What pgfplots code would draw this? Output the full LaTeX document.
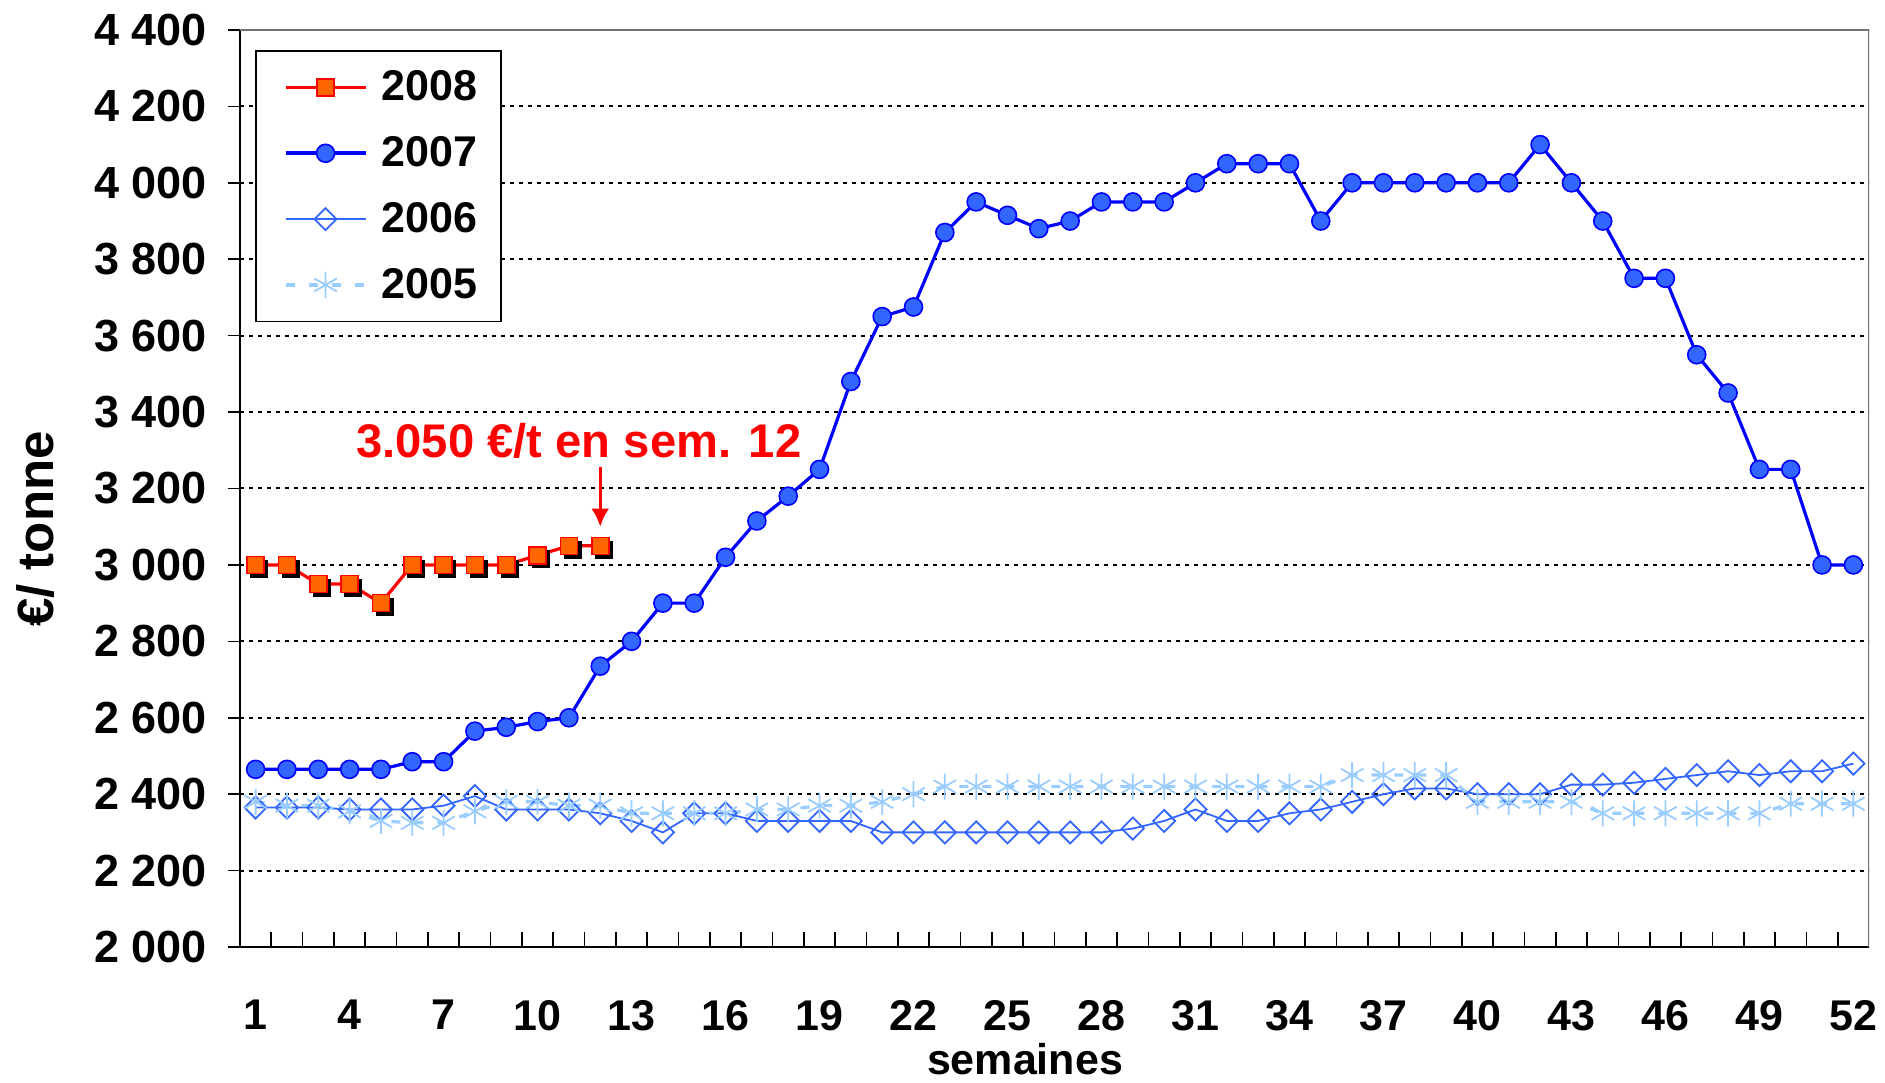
\documentclass[border=0pt]{standalone}
\usepackage{pgfplots}
\pgfplotsset{compat=1.18}
\usetikzlibrary{arrows.meta}
\usepackage{fontspec}
\setmainfont{Liberation Sans}
\definecolor{r08}{RGB}{255,0,0}
\definecolor{o08}{RGB}{255,102,0}
\definecolor{b07}{RGB}{0,0,255}
\definecolor{f07}{RGB}{51,102,255}
\definecolor{b06}{RGB}{51,102,255}
\definecolor{b05}{RGB}{153,204,255}
\newcommand{\lbl}{\fontsize{21.5}{25}\selectfont\bfseries}
\begin{document}
\begin{tikzpicture}
\begin{axis}[
  scale only axis, width=814.5pt, height=458.5pt,
  xmin=0.5, xmax=52.5, ymin=2000, ymax=4400,
  axis x line*=bottom, axis y line*=left,
  axis line style={-, line width=1pt, black},
  xtick={1,4,...,52},
  xticklabels={1,4,7,10,13,16,19,22,25,28,31,34,37,40,43,46,49,52},
  minor xtick={1.5,2.5,...,51.5},
  ytick={2000,2200,...,4400},
  yticklabels={2 000,2 200,2 400,2 600,2 800,3 000,3 200,3 400,3 600,3 800,4 000,4 200,4 400},
  major tick length=6pt, minor tick length=7.5pt,
  xtick align=inside, ytick align=outside,
  major x tick style={draw=none},
  tick style={black, line width=0.8pt},
  ymajorgrids,
  major grid style={black, line width=1pt, dash pattern=on 2pt off 2.5pt},
  xticklabel style={font=\lbl, yshift=-23pt},
  yticklabel style={font=\fontsize{22.5}{26}\selectfont\bfseries, xshift=-7pt},
  xlabel={semaines},
  xlabel style={font=\lbl, at={(axis description cs:0.4819,0)}, anchor=center, yshift=-56pt},
  ylabel={€/ tonne},
  ylabel style={font=\fontsize{25.5}{29}\selectfont\bfseries, at={(axis description cs:-0.1252,0.4558)}, anchor=center},
  legend image code/.code={\path (0pt,0pt); \draw[mark repeat=2,mark phase=2] plot coordinates {(4pt,0pt) (24pt,0pt) (44pt,0pt)};},
  legend cell align=left,
  legend style={at={(axis description cs:0.0092,0.978)}, anchor=north west,
    draw=black, line width=0.8pt, font=\lbl, inner xsep=10pt, inner ysep=8pt,
    row sep=12.4pt, column sep=5pt, nodes={inner sep=2pt}},
]
% 2006
\addplot[b06, line width=0.9pt, mark=square, mark size=3.9pt,
  mark options={rotate=45, fill=white, solid, line width=0.9pt}, forget plot] coordinates {
(1,2365)(2,2365)(3,2365)(4,2360)(5,2360)(6,2360)(7,2370)(8,2395)(9,2360)(10,2360)
(11,2360)(12,2350)(13,2330)(14,2300)(15,2350)(16,2350)(17,2330)(18,2330)(19,2330)(20,2330)
(21,2300)(22,2300)(23,2300)(24,2300)(25,2300)(26,2300)(27,2300)(28,2300)(29,2310)(30,2330)
(31,2360)(32,2330)(33,2330)(34,2350)(35,2360)(36,2380)(37,2400)(38,2415)(39,2415)(40,2400)
(41,2400)(42,2400)(43,2425)(44,2425)(45,2430)(46,2440)(47,2450)(48,2460)(49,2450)(50,2460)
(51,2460)(52,2480)};
% 2005
\addplot[b05, line width=1.6pt, dash pattern=on 4.5pt off 7pt, mark=asterisk, mark size=6.5pt,
  mark options={solid, line width=0.9pt}, forget plot] coordinates {
(1,2380)(2,2370)(3,2370)(4,2355)(5,2330)(6,2325)(7,2325)(8,2355)(9,2380)(10,2380)
(11,2370)(12,2370)(13,2350)(14,2350)(15,2350)(16,2350)(17,2360)(18,2360)(19,2370)(20,2370)
(21,2380)(22,2400)(23,2420)(24,2420)(25,2420)(26,2420)(27,2420)(28,2420)(29,2420)(30,2420)
(31,2420)(32,2420)(33,2420)(34,2420)(35,2420)(36,2450)(37,2450)(38,2450)(39,2450)(40,2380)
(41,2380)(42,2380)(43,2380)(44,2350)(45,2350)(46,2350)(47,2350)(48,2350)(49,2350)(50,2375)
(51,2375)(52,2375)};
% 2007
\addplot[b07, line width=1.6pt, mark=*, mark size=4.5pt,
  mark options={fill=f07, draw=b07, line width=0.8pt}, forget plot] coordinates {
(1,2465)(2,2465)(3,2465)(4,2465)(5,2465)(6,2485)(7,2485)(8,2565)(9,2575)(10,2590)
(11,2600)(12,2735)(13,2800)(14,2900)(15,2900)(16,3020)(17,3115)(18,3180)(19,3250)(20,3480)
(21,3650)(22,3675)(23,3870)(24,3950)(25,3915)(26,3880)(27,3900)(28,3950)(29,3950)(30,3950)
(31,4000)(32,4050)(33,4050)(34,4050)(35,3900)(36,4000)(37,4000)(38,4000)(39,4000)(40,4000)
(41,4000)(42,4100)(43,4000)(44,3900)(45,3750)(46,3750)(47,3550)(48,3450)(49,3250)(50,3250)
(51,3000)(52,3000)};
% 2008 shadow
\addplot[only marks, mark=square*, mark size=4.25pt,
  mark options={black, xshift=1.8pt, yshift=-1.8pt}, forget plot] coordinates {
(1,3000)(2,3000)(3,2950)(4,2950)(5,2900)(6,3000)(7,3000)(8,3000)(9,3000)(10,3025)(11,3050)(12,3050)};
% 2008
\addplot[r08, line width=1.6pt, mark=square*, mark size=4.25pt,
  mark options={fill=o08, draw=r08, line width=0.8pt}, forget plot] coordinates {
(1,3000)(2,3000)(3,2950)(4,2950)(5,2900)(6,3000)(7,3000)(8,3000)(9,3000)(10,3025)(11,3050)(12,3050)};
% legend
\addlegendimage{r08, line width=1.8pt, mark=square*, mark size=4.25pt, mark options={fill=o08, draw=r08, line width=0.8pt}}
\addlegendimage{b07, line width=1.8pt, mark=*, mark size=4.5pt, mark options={fill=f07, draw=b07, line width=0.8pt}}
\addlegendimage{b06, line width=0.9pt, mark=square, mark size=3.9pt, mark options={rotate=45, fill=white, solid, line width=0.9pt}}
\addlegendimage{b05, line width=1.6pt, dash pattern=on 4.5pt off 7pt, mark=asterisk, mark size=6.5pt, mark options={solid, line width=0.9pt}}
\legend{2008,2007,2006,2005}
% frame top/right
\draw[black!55, line width=1pt] (rel axis cs:0,1) -- (rel axis cs:1,1) -- (rel axis cs:1,0);
% annotation
\node[text=r08, font=\fontsize{23.6}{27}\selectfont\bfseries] at (axis cs:11.32,3324) {3.050 €/t en sem. 12};
\draw[r08, line width=1.6pt, -{Latex[length=9pt,width=9pt]}] (axis cs:12,3255) -- (axis cs:12,3100);
\coordinate (bbSW) at (rel axis cs:-0.1473,-0.1472);
\coordinate (bbNE) at (rel axis cs:1.0098,1.0327);
\end{axis}
\pgfresetboundingbox
\path[use as bounding box] (bbSW) rectangle (bbNE);
\end{tikzpicture}
\end{document}
